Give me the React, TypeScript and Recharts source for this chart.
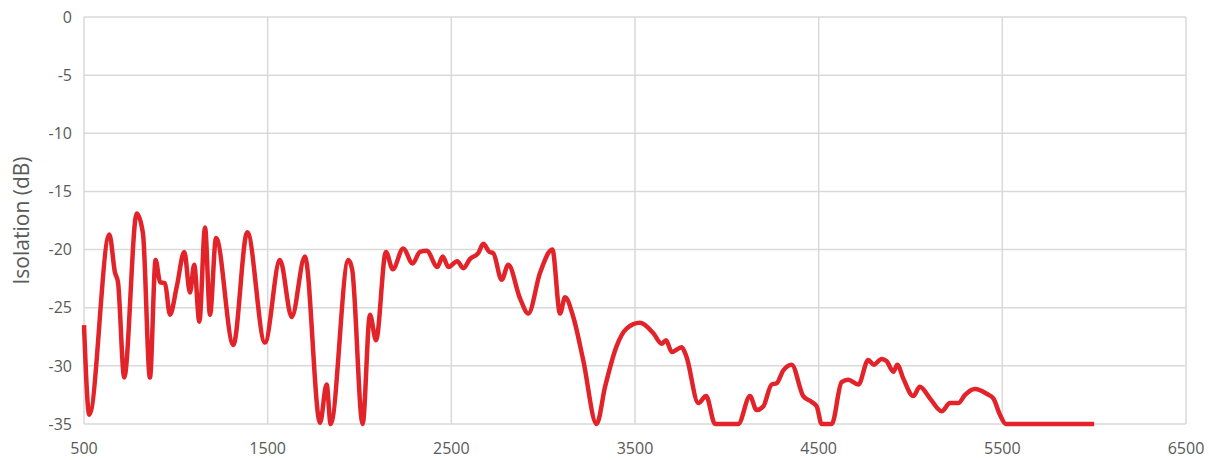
import { LineChart, Line, XAxis, YAxis, CartesianGrid } from "recharts";

const freqs = [
  500, 529, 638, 669, 685, 719, 787, 821, 859, 890, 914, 941, 968, 1005, 1046, 1077, 1100, 1128,
  1159, 1186, 1219, 1313, 1389, 1485, 1567, 1631, 1703, 1785, 1821, 1843, 1939, 1960, 2017, 2057,
  2090, 2144, 2181, 2238, 2289, 2329, 2366, 2424, 2453, 2484, 2532, 2565, 2602, 2647, 2674, 2707,
  2728, 2774, 2810, 2874, 2919, 2983, 3050, 3092, 3119, 3164, 3218, 3291, 3337, 3400, 3454, 3527,
  3600, 3645, 3669, 3700, 3754, 3780, 3845, 3887, 3936, 4062, 4126, 4162, 4198, 4244, 4271, 4307,
  4353, 4416, 4462, 4490, 4516, 4571, 4625, 4661, 4716, 4770, 4800, 4843, 4870, 4907, 4928, 4961,
  5015, 5051, 5106, 5170, 5215, 5260, 5297, 5351, 5415, 5451, 5487, 5520, 6000,
];

const isolation = [
  -26.5, -34.2, -18.7, -22.0, -22.8, -31.0, -16.9, -18.6, -31.0, -20.9, -22.8, -22.9, -25.6, -23.2,
  -20.2, -23.7, -21.3, -26.2, -18.1, -25.6, -19.0, -28.2, -18.5, -28.0, -20.9, -25.8, -20.6, -34.9,
  -31.6, -35.0, -20.9, -21.7, -35.0, -25.6, -27.8, -20.2, -21.7, -19.9, -21.2, -20.2, -20.1, -21.5,
  -20.6, -21.5, -21.0, -21.6, -20.8, -20.3, -19.5, -20.2, -20.3, -22.6, -21.3, -24.2, -25.5, -22.0,
  -20.0, -25.5, -24.1, -25.8, -29.5, -35.0, -31.8, -28.3, -26.8, -26.3, -27.2, -28.1, -27.8, -28.8,
  -28.4, -29.2, -33.2, -32.6, -35.0, -35.0, -32.6, -33.8, -33.5, -31.6, -31.5, -30.4, -29.9, -32.6,
  -33.1, -33.5, -35.0, -35.0, -31.4, -31.2, -31.6, -29.5, -29.9, -29.4, -29.6, -30.5, -29.9, -31.1,
  -32.6, -31.8, -32.8, -33.9, -33.2, -33.2, -32.5, -32.0, -32.4, -32.8, -34.2, -35.0, -35.0,
];

const xTicks = [500, 1500, 2500, 3500, 4500, 5500, 6500];
const yTicks = [0, -5, -10, -15, -20, -25, -30, -35];

const data = freqs.map((f, i) => ({ f, v: isolation[i] }));

const font = "'Open Sans', sans-serif";
const tickStyle = { fill: "#595959", fontSize: 16, fontFamily: font };

export default function App() {
  return (
    <div style={{ position: "absolute", left: 0, top: 0 }}>
      <LineChart width={1209} height={460} data={data} margin={{ top: 17, right: 23, left: 0, bottom: 0 }}>
        <CartesianGrid stroke="#d9d9d9" strokeWidth={1.5} />
        <XAxis
          dataKey="f"
          type="number"
          domain={[500, 6500]}
          ticks={xTicks}
          height={36}
          tickLine={false}
          axisLine={false}
          tick={tickStyle}
          tickMargin={13}
        />
        <YAxis
          type="number"
          domain={[-35, 0]}
          ticks={yTicks}
          width={84}
          tickLine={false}
          axisLine={false}
          tick={tickStyle}
          tickMargin={6}
          label={{
            value: "Isolation (dB)",
            angle: -90,
            position: "insideLeft",
            offset: 22,
            style: { textAnchor: "middle", fill: "#595959", fontSize: 21, fontFamily: font },
          }}
        />
        <Line
          type="monotone"
          dataKey="v"
          stroke="#e3232a"
          strokeWidth={4.5}
          dot={false}
          isAnimationActive={false}
        />
      </LineChart>
    </div>
  );
}
